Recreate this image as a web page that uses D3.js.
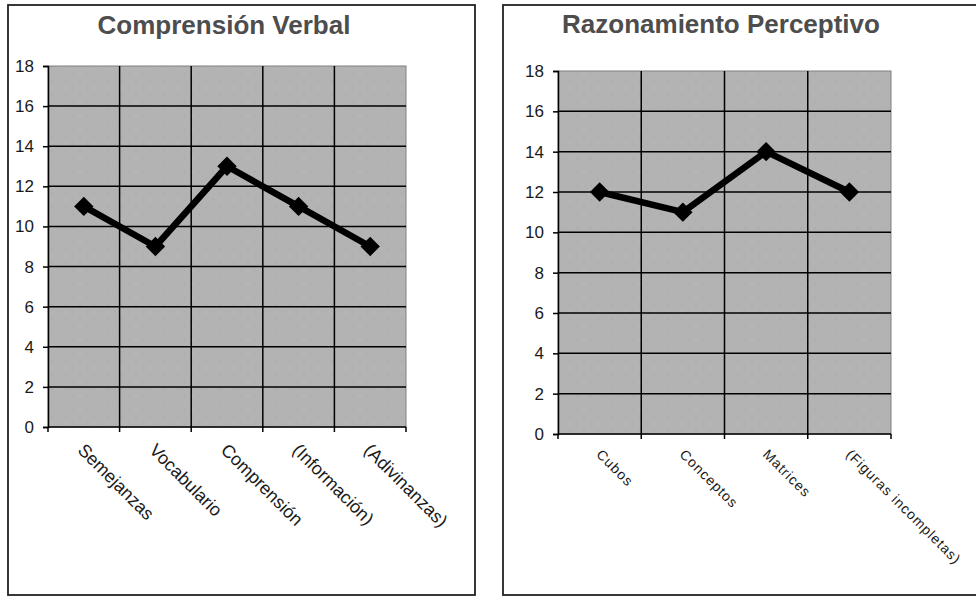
<!DOCTYPE html>
<html>
<head>
<meta charset="utf-8">
<script src="https://cdn.jsdelivr.net/npm/d3@7"></script>
<style>
  body { margin: 0; background: #fff; }
  svg { display: block; font-family: "Liberation Sans", Arial, sans-serif; }
</style>
</head>
<body>
<svg id="chart" width="976" height="597"></svg>
<script>
// Data
const yTicks = [0, 2, 4, 6, 8, 10, 12, 14, 16, 18];
const verbalTitle = "Comprensión Verbal";
const verbalCategories = ["Semejanzas", "Vocabulario", "Comprensión", "(Información)", "(Adivinanzas)"];
const verbalScores = [11, 9, 13, 11, 9];
const perceptTitle = "Razonamiento Perceptivo";
const perceptCategories = ["Cubos", "Conceptos", "Matrices", "(Figuras incompletas)"];
const perceptScores = [12, 11, 14, 12];

const svg = d3.select("#chart");

const colors = {
    plotFill: "#b3b3b3",
    plotBorder: "#808080",
    grid: "#000",
    line: "#000",
    title: "#4d4d4d",
    axisText: "#1a1a1a",
    frame: "#222"
};

// faint dotted texture for the plot area
const pattern = svg.append("defs").append("pattern")
    .attr("id", "dots")
    .attr("width", 14).attr("height", 14)
    .attr("patternUnits", "userSpaceOnUse");
pattern.append("rect").attr("width", 14).attr("height", 14).attr("fill", colors.plotFill);
pattern.append("circle").attr("cx", 3).attr("cy", 4).attr("r", 0.7).attr("fill", "#a6a6a6");
pattern.append("circle").attr("cx", 10).attr("cy", 11).attr("r", 0.7).attr("fill", "#a6a6a6");

function drawChart(opts) {
    const g = svg.append("g");

    // outer frame
    g.append("rect")
        .attr("x", opts.frame[0]).attr("y", opts.frame[1])
        .attr("width", opts.frame[2] - opts.frame[0])
        .attr("height", opts.frame[3] - opts.frame[1])
        .attr("fill", "#fff")
        .attr("stroke", colors.frame)
        .attr("stroke-width", 1.8);

    g.append("text")
        .attr("x", opts.titleX).attr("y", opts.titleY)
        .attr("text-anchor", "middle")
        .style("font-size", "26px")
        .style("font-weight", "bold")
        .style("fill", colors.title)
        .text(opts.title);

    const x = d3.scaleBand().domain(opts.categories).range([opts.left, opts.right]).padding(0);
    const y = d3.scaleLinear().domain([0, 18]).range([opts.bottom, opts.top]);

    // plot area
    g.append("rect")
        .attr("x", opts.left).attr("y", opts.top)
        .attr("width", opts.right - opts.left)
        .attr("height", opts.bottom - opts.top)
        .attr("fill", "url(#dots)")
        .attr("stroke", colors.plotBorder)
        .attr("stroke-width", 1);

    // horizontal grid
    g.selectAll(".hgrid")
        .data(yTicks.filter(d => d > 0 && d < 18))
        .enter().append("line")
        .attr("x1", opts.left).attr("x2", opts.right)
        .attr("y1", d => y(d)).attr("y2", d => y(d))
        .attr("stroke", colors.grid)
        .attr("stroke-width", 1.5);

    // vertical grid between categories
    g.selectAll(".vgrid")
        .data(opts.categories.slice(1))
        .enter().append("line")
        .attr("x1", d => x(d)).attr("x2", d => x(d))
        .attr("y1", opts.top).attr("y2", opts.bottom)
        .attr("stroke", colors.grid)
        .attr("stroke-width", 1.5);

    // y axis
    const yAxis = g.append("g")
        .attr("transform", `translate(${opts.left},0)`)
        .call(d3.axisLeft(y).tickValues(yTicks).tickSize(5).tickPadding(9));
    yAxis.select(".domain").attr("stroke", "#000").attr("stroke-width", 1.5);
    yAxis.selectAll(".tick line").attr("stroke", "#000").attr("stroke-width", 1.5);
    yAxis.selectAll(".tick text")
        .style("font-size", "17px")
        .style("font-family", "'Liberation Sans', Arial, sans-serif")
        .attr("fill", colors.axisText);

    // x axis line and ticks at category boundaries
    const edges = opts.categories.map(c => x(c)).concat([opts.right]);
    g.append("line")
        .attr("x1", opts.left).attr("x2", opts.right)
        .attr("y1", opts.bottom).attr("y2", opts.bottom)
        .attr("stroke", "#000").attr("stroke-width", 1.5);
    g.selectAll(".xtick")
        .data(edges)
        .enter().append("line")
        .attr("x1", d => d).attr("x2", d => d)
        .attr("y1", opts.bottom).attr("y2", opts.bottom + 5)
        .attr("stroke", "#000").attr("stroke-width", 1.5);

    // rotated category labels
    g.selectAll(".xlabel")
        .data(opts.categories)
        .enter().append("text")
        .attr("transform", d => `translate(${x(d) + x.bandwidth() / 2 + opts.labelDx},${opts.bottom + opts.labelGap}) rotate(45)`)
        .attr("dy", "0.72em")
        .style("font-size", opts.labelSize + "px")
        .style("letter-spacing", opts.letterSpacing + "px")
        .style("fill", colors.axisText)
        .text(d => d);

    // line and markers
    const pts = opts.categories.map((c, i) => ({ c: c, v: opts.values[i] }));
    const line = d3.line().x(d => x(d.c) + x.bandwidth() / 2).y(d => y(d.v));
    g.append("path")
        .datum(pts)
        .attr("fill", "none")
        .attr("stroke", colors.line)
        .attr("stroke-width", 6.5)
        .attr("stroke-linejoin", "round")
        .attr("d", line);

    const diamond = d3.symbol().type(d3.symbolDiamond2).size(240);
    g.selectAll(".dot")
        .data(pts)
        .enter().append("path")
        .attr("transform", d => `translate(${x(d.c) + x.bandwidth() / 2},${y(d.v)})`)
        .attr("d", diamond)
        .attr("fill", colors.line);
}

drawChart({
    title: verbalTitle,
    categories: verbalCategories,
    values: verbalScores,
    frame: [8, 5, 475, 595],
    titleX: 224, titleY: 34,
    left: 48, right: 406, top: 66, bottom: 427,
    labelGap: 15, labelDx: 2, labelSize: 18, letterSpacing: 0
});

drawChart({
    title: perceptTitle,
    categories: perceptCategories,
    values: perceptScores,
    frame: [503, 5, 990, 595],
    titleX: 721, titleY: 33,
    left: 558, right: 891, top: 71, bottom: 434,
    labelGap: 14, labelDx: 3, labelSize: 14, letterSpacing: 1
});
</script>
</body>
</html>
